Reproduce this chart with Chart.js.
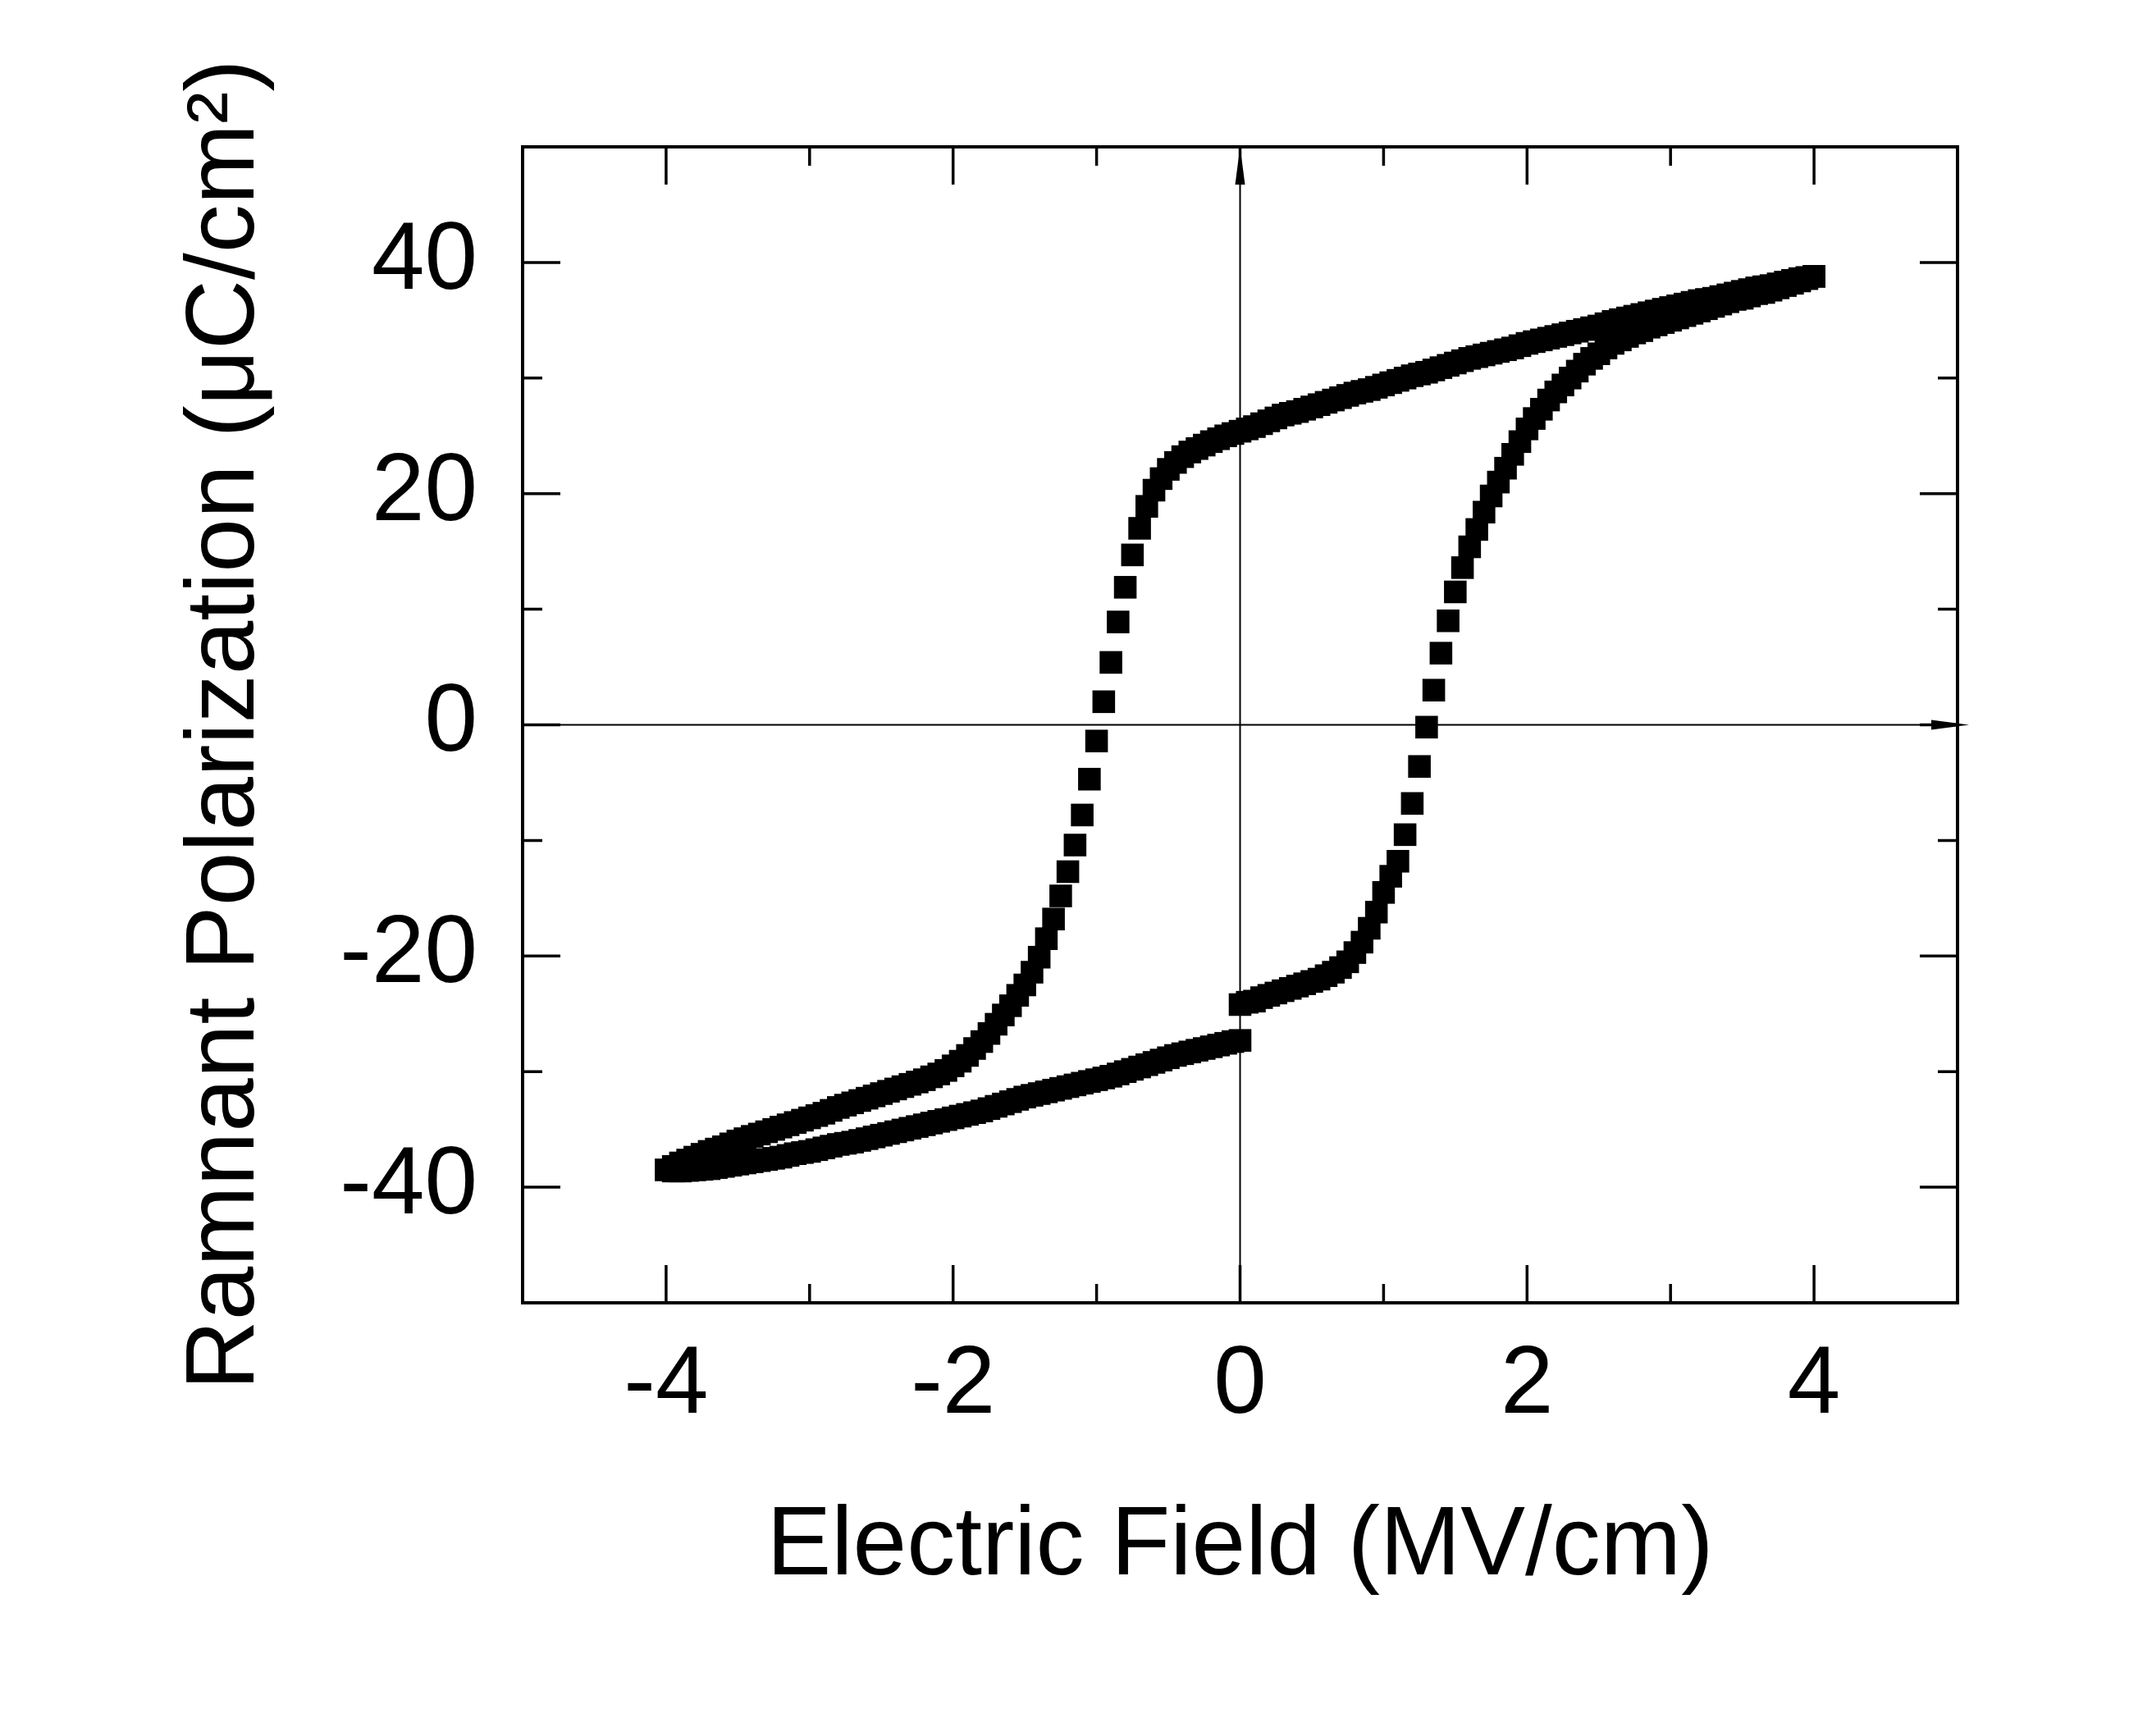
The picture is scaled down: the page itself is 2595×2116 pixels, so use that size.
<!DOCTYPE html>
<html>
<head>
<meta charset="utf-8">
<script src="https://cdn.jsdelivr.net/npm/chart.js@4.4.1/dist/chart.umd.min.js"></script>
<style>
  html, body { margin: 0; padding: 0; background: #fff; }
  canvas { display: block; }
</style>
</head>
<body>
<canvas id="loopChart" width="2595" height="2116"></canvas>
<script>
// first sweep: 0 -> +4 MV/cm
const fieldUp = [
  0, 0.05, 0.1, 0.15, 0.2, 0.25, 0.3, 0.35, 0.4, 0.45,
  0.5, 0.55, 0.6, 0.65, 0.7, 0.75, 0.8, 0.85, 0.9, 0.95,
  1.0, 1.05, 1.1, 1.15, 1.2, 1.25, 1.3, 1.35, 1.4, 1.45,
  1.5, 1.55, 1.6, 1.65, 1.7, 1.75, 1.8, 1.85, 1.9, 1.95,
  2.0, 2.05, 2.1, 2.15, 2.2, 2.25, 2.3, 2.35, 2.4, 2.45,
  2.5, 2.55, 2.6, 2.65, 2.7, 2.75, 2.8, 2.85, 2.9, 2.95,
  3.0, 3.05, 3.1, 3.15, 3.2, 3.25, 3.3, 3.35, 3.4, 3.45,
  3.5, 3.55, 3.6, 3.65, 3.7, 3.75, 3.8, 3.85, 3.9, 3.95,
  4.0];
const polUp = [
  -24.2, -24.0, -23.9, -23.6, -23.4, -23.2, -23.0, -22.8, -22.6, -22.4,
  -22.2, -22.0, -21.7, -21.4, -21.0, -20.5, -19.7, -18.8, -17.6, -16.2,
  -14.5, -13.1, -11.8, -9.5, -6.8, -3.6, -0.2, 3.0, 6.2, 9.0,
  11.5, 13.6, 15.4, 16.9, 18.4, 19.8, 21.0, 22.2, 23.4, 24.5,
  25.6, 26.5, 27.3, 28.1, 28.8, 29.4, 30.0, 30.6, 31.2, 31.7,
  32.1, 32.6, 33.0, 33.3, 33.6, 33.9, 34.1, 34.4, 34.6, 34.8,
  35.0, 35.2, 35.4, 35.6, 35.8, 36.0, 36.2, 36.4, 36.6, 36.8,
  36.9, 37.1, 37.3, 37.4, 37.6, 37.8, 38.0, 38.2, 38.4, 38.6,
  38.8];

// second sweep: +4 -> -4 MV/cm
const fieldDown = [
  4.0, 3.95, 3.9, 3.85, 3.8, 3.75, 3.7, 3.65, 3.6, 3.55,
  3.5, 3.45, 3.4, 3.35, 3.3, 3.25, 3.2, 3.15, 3.1, 3.05,
  3.0, 2.95, 2.9, 2.85, 2.8, 2.75, 2.7, 2.65, 2.6, 2.55,
  2.5, 2.45, 2.4, 2.35, 2.3, 2.25, 2.2, 2.15, 2.1, 2.05,
  2.0, 1.95, 1.9, 1.85, 1.8, 1.75, 1.7, 1.65, 1.6, 1.55,
  1.5, 1.45, 1.4, 1.35, 1.3, 1.25, 1.2, 1.15, 1.1, 1.05,
  1.0, 0.95, 0.9, 0.85, 0.8, 0.75, 0.7, 0.65, 0.6, 0.55,
  0.5, 0.45, 0.4, 0.35, 0.3, 0.25, 0.2, 0.15, 0.1, 0.05,
  0, -0.05, -0.1, -0.15, -0.2, -0.25, -0.3, -0.35, -0.4, -0.45,
  -0.5, -0.55, -0.6, -0.65, -0.7, -0.75, -0.8, -0.85, -0.9, -0.95,
  -1.0, -1.05, -1.1, -1.15, -1.2, -1.25, -1.3, -1.35, -1.4, -1.45,
  -1.5, -1.55, -1.6, -1.65, -1.7, -1.75, -1.8, -1.85, -1.9, -1.95,
  -2.0, -2.05, -2.1, -2.15, -2.2, -2.25, -2.3, -2.35, -2.4, -2.45,
  -2.5, -2.55, -2.6, -2.65, -2.7, -2.75, -2.8, -2.85, -2.9, -2.95,
  -3.0, -3.05, -3.1, -3.15, -3.2, -3.25, -3.3, -3.35, -3.4, -3.45,
  -3.5, -3.55, -3.6, -3.65, -3.7, -3.75, -3.8, -3.85, -3.9, -3.95,
  -4.0];
const polDown = [
  38.8, 38.7, 38.6, 38.45, 38.3, 38.15, 38.0, 37.9, 37.8, 37.65,
  37.5, 37.35, 37.2, 37.05, 36.9, 36.8, 36.7, 36.55, 36.4, 36.25,
  36.1, 35.95, 35.8, 35.65, 35.5, 35.35, 35.2, 35.05, 34.9, 34.7,
  34.5, 34.35, 34.2, 34.05, 33.9, 33.75, 33.6, 33.45, 33.3, 33.15,
  33.0, 32.8, 32.6, 32.45, 32.3, 32.15, 32.0, 31.85, 31.7, 31.5,
  31.3, 31.1, 30.9, 30.7, 30.5, 30.35, 30.2, 30.0, 29.8, 29.6,
  29.4, 29.2, 29.0, 28.85, 28.7, 28.5, 28.3, 28.1, 27.9, 27.7,
  27.5, 27.3, 27.1, 26.95, 26.8, 26.55, 26.3, 26.05, 25.8, 25.6,
  25.4, 25.2, 25.0, 24.75, 24.5, 24.2, 23.9, 23.6, 23.2, 22.7,
  22.1, 21.3, 20.3, 18.9, 17.0, 14.7, 11.9, 8.9, 5.4, 2.0,
  -1.4, -4.7, -7.8, -10.4, -12.7, -14.8, -16.8, -18.5, -20.1, -21.4,
  -22.5, -23.4, -24.3, -25.1, -25.9, -26.7, -27.4, -28.0, -28.6, -29.1,
  -29.5, -29.9, -30.2, -30.45, -30.7, -30.9, -31.1, -31.3, -31.5, -31.7,
  -31.9, -32.1, -32.3, -32.5, -32.7, -32.9, -33.1, -33.35, -33.6, -33.8,
  -34.0, -34.2, -34.4, -34.6, -34.8, -35.0, -35.2, -35.4, -35.6, -35.8,
  -36.0, -36.25, -36.5, -36.7, -36.9, -37.15, -37.4, -37.65, -37.9, -38.2,
  -38.5];

// third sweep: -4 -> 0 MV/cm
const fieldBack = [
  -3.95, -3.9, -3.85, -3.8, -3.75, -3.7, -3.65, -3.6, -3.55, -3.5,
  -3.45, -3.4, -3.35, -3.3, -3.25, -3.2, -3.15, -3.1, -3.05, -3.0,
  -2.95, -2.9, -2.85, -2.8, -2.75, -2.7, -2.65, -2.6, -2.55, -2.5,
  -2.45, -2.4, -2.35, -2.3, -2.25, -2.2, -2.15, -2.1, -2.05, -2.0,
  -1.95, -1.9, -1.85, -1.8, -1.75, -1.7, -1.65, -1.6, -1.55, -1.5,
  -1.45, -1.4, -1.35, -1.3, -1.25, -1.2, -1.15, -1.1, -1.05, -1.0,
  -0.95, -0.9, -0.85, -0.8, -0.75, -0.7, -0.65, -0.6, -0.55, -0.5,
  -0.45, -0.4, -0.35, -0.3, -0.25, -0.2, -0.15, -0.1, -0.05, 0];
const polBack = [
  -38.6, -38.6, -38.55, -38.5, -38.45, -38.4, -38.3, -38.2, -38.1, -38.0,
  -37.9, -37.8, -37.7, -37.6, -37.5, -37.4, -37.25, -37.1, -37.0, -36.9,
  -36.75, -36.6, -36.45, -36.3, -36.2, -36.1, -35.95, -35.8, -35.65, -35.5,
  -35.35, -35.2, -35.05, -34.9, -34.75, -34.6, -34.45, -34.3, -34.15, -34.0,
  -33.85, -33.7, -33.55, -33.4, -33.2, -33.0, -32.8, -32.6, -32.4, -32.2,
  -32.05, -31.9, -31.75, -31.6, -31.45, -31.3, -31.15, -31.0, -30.85, -30.7,
  -30.55, -30.4, -30.2, -30.0, -29.8, -29.6, -29.4, -29.2, -29.0, -28.8,
  -28.6, -28.45, -28.3, -28.15, -28.0, -27.85, -27.7, -27.55, -27.4, -27.3];

const xTickLabels = [-4, -2, 0, 2, 4];
const yTickLabels = [-40, -20, 0, 20, 40];

const fontFamily = '"Liberation Sans", Arial, sans-serif';

function toPoints(xs, ys) {
  return xs.map((x, i) => ({ x: x, y: ys[i] }));
}

function sweep(label, xs, ys) {
  return {
    label: label,
    data: toPoints(xs, ys),
    showLine: false,
    pointStyle: 'rect',
    pointRadius: 19.5,
    pointHoverRadius: 19.5,
    pointBorderWidth: 0,
    backgroundColor: '#000',
    borderColor: '#000'
  };
}

// zero axes with arrows, box frame and inward ticks on all four sides
const frameAndAxes = {
  id: 'frameAndAxes',
  beforeDatasetsDraw(chart) {
    const { ctx, chartArea: a, scales: { x, y } } = chart;
    const x0 = x.getPixelForValue(0);
    const y0 = y.getPixelForValue(0);
    const tipX = a.right + 14;
    ctx.save();
    ctx.strokeStyle = '#000';
    ctx.fillStyle = '#000';
    ctx.lineWidth = 2;
    ctx.beginPath();
    ctx.moveTo(x0, a.bottom);
    ctx.lineTo(x0, a.top + 30);
    ctx.moveTo(a.left, y0);
    ctx.lineTo(tipX - 30, y0);
    ctx.stroke();

    ctx.beginPath();
    ctx.moveTo(x0, a.top);
    ctx.lineTo(x0 - 6, a.top + 46);
    ctx.lineTo(x0 + 6, a.top + 46);
    ctx.closePath();
    ctx.fill();

    ctx.beginPath();
    ctx.moveTo(tipX, y0);
    ctx.lineTo(tipX - 46, y0 - 6);
    ctx.lineTo(tipX - 46, y0 + 6);
    ctx.closePath();
    ctx.fill();
    ctx.restore();
  },
  afterDatasetsDraw(chart) {
    const { ctx, chartArea: a, scales: { x, y } } = chart;
    ctx.save();
    ctx.strokeStyle = '#000';
    ctx.lineWidth = 3.5;
    ctx.beginPath();
    x.ticks.forEach(t => {
      if (t.value <= x.min || t.value >= x.max) return;
      const px = x.getPixelForValue(t.value);
      const len = t.value % 2 === 0 ? 46 : 23;
      ctx.moveTo(px, a.bottom);
      ctx.lineTo(px, a.bottom - len);
      ctx.moveTo(px, a.top);
      ctx.lineTo(px, a.top + len);
    });
    y.ticks.forEach(t => {
      if (t.value <= y.min || t.value >= y.max) return;
      const py = y.getPixelForValue(t.value);
      const len = t.value % 20 === 0 ? 46 : 24;
      ctx.moveTo(a.left, py);
      ctx.lineTo(a.left + len, py);
      ctx.moveTo(a.right, py);
      ctx.lineTo(a.right - len, py);
    });
    ctx.stroke();

    ctx.lineWidth = 4;
    ctx.strokeRect(a.left, a.top, a.right - a.left, a.bottom - a.top);
    ctx.restore();
  }
};

const ctx = document.getElementById('loopChart').getContext('2d');

new Chart(ctx, {
  type: 'scatter',
  data: {
    datasets: [
      sweep('0 to +4', fieldUp, polUp),
      sweep('+4 to -4', fieldDown, polDown),
      sweep('-4 to 0', fieldBack, polBack)
    ]
  },
  options: {
    responsive: false,
    animation: false,
    layout: {
      padding: { top: 179, right: 209, bottom: 0, left: 0 }
    },
    plugins: {
      legend: { display: false },
      tooltip: { enabled: false }
    },
    scales: {
      x: {
        type: 'linear',
        position: 'bottom',
        min: -5,
        max: 5,
        grid: { display: false, drawTicks: false },
        border: { display: false },
        ticks: {
          stepSize: 1,
          autoSkip: false,
          maxRotation: 0,
          padding: 32,
          color: '#000',
          font: { family: fontFamily, size: 116 },
          callback: (v) => xTickLabels.includes(v) ? String(v) : ''
        },
        title: {
          display: true,
          text: 'Electric Field (MV/cm)',
          color: '#000',
          font: { family: fontFamily, size: 118, lineHeight: 1.2 },
          padding: { top: 0, bottom: 159 }
        },
        afterFit(scale) { scale.height = 528; }
      },
      y: {
        type: 'linear',
        position: 'left',
        min: -50,
        max: 50,
        grid: { display: false, drawTicks: false },
        border: { display: false },
        ticks: {
          stepSize: 10,
          autoSkip: false,
          padding: 55,
          color: '#000',
          font: { family: fontFamily, size: 116 },
          callback: (v) => yTickLabels.includes(v) ? String(v) : ''
        },
        title: {
          display: true,
          text: 'Ramnant Polarization (μC/cm²)',
          color: '#000',
          font: { family: fontFamily, size: 118, lineHeight: 1.2 },
          padding: { top: 206, bottom: 0 }
        },
        afterFit(scale) { scale.width = 637; }
      }
    }
  },
  plugins: [frameAndAxes]
});
</script>
</body>
</html>
